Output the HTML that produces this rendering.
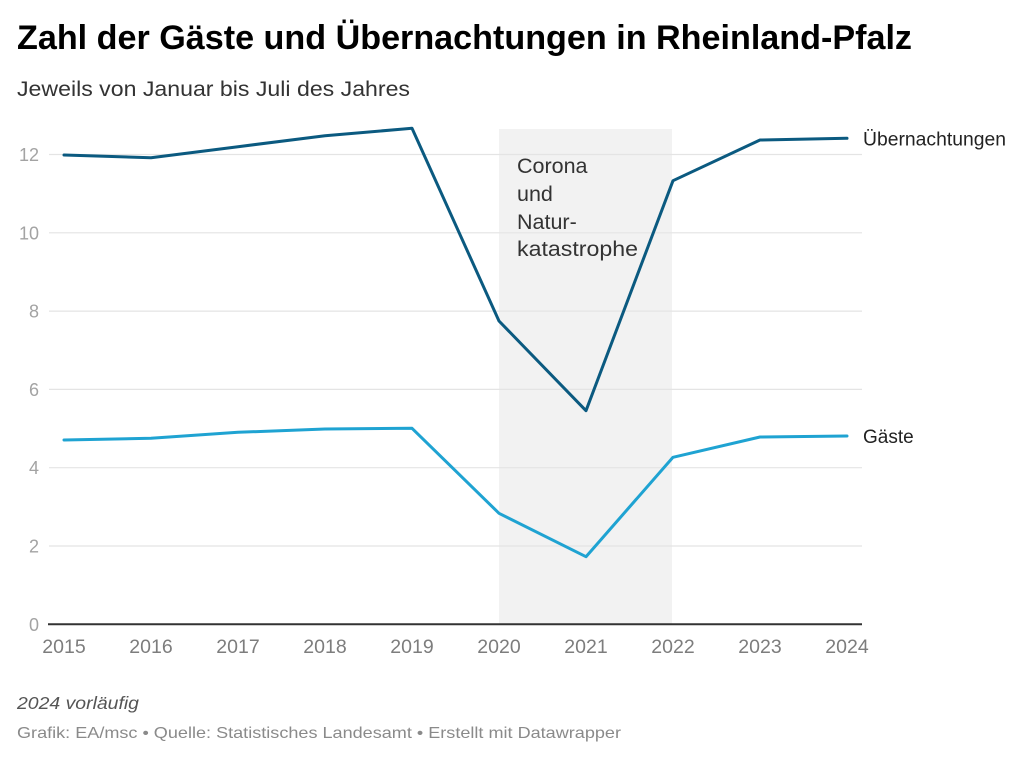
<!DOCTYPE html>
<html>
<head>
<meta charset="utf-8">
<style>
  html, body { margin:0; padding:0; background:#fff; }
  svg { display:block; }
  text { font-family: "Liberation Sans", Arial, sans-serif; }
</style>
</head>
<body>
<svg width="1024" height="760" viewBox="0 0 1024 760" xmlns="http://www.w3.org/2000/svg">
  <rect x="0" y="0" width="1024" height="760" fill="#ffffff"/>

  <!-- Title -->
  <text x="17" y="49" font-size="34" font-weight="bold" fill="#000" textLength="895" lengthAdjust="spacingAndGlyphs">Zahl der Gäste und Übernachtungen in Rheinland-Pfalz</text>
  <text x="17" y="96" font-size="21" fill="#333" textLength="393" lengthAdjust="spacingAndGlyphs">Jeweils von Januar bis Juli des Jahres</text>

  <!-- Shaded range -->
  <rect x="499" y="129" width="173" height="495" fill="#f2f2f2"/>

  <!-- Grid lines -->
  <g stroke="#e4e4e4" stroke-width="1.2">
    <line x1="49" y1="546" x2="862" y2="546"/>
    <line x1="49" y1="467.7" x2="862" y2="467.7"/>
    <line x1="49" y1="389.4" x2="862" y2="389.4"/>
    <line x1="49" y1="311.1" x2="862" y2="311.1"/>
    <line x1="49" y1="232.8" x2="862" y2="232.8"/>
    <line x1="49" y1="154.5" x2="862" y2="154.5"/>
  </g>

  <!-- Y labels -->
  <g font-size="18" fill="#a3a3a3" text-anchor="end">
    <text x="39" y="631">0</text>
    <text x="39" y="552.5">2</text>
    <text x="39" y="474.2">4</text>
    <text x="39" y="395.9">6</text>
    <text x="39" y="317.6">8</text>
    <text x="39" y="239.3">10</text>
    <text x="39" y="161">12</text>
  </g>

  <!-- Annotation -->
  <g font-size="21.5" fill="#333">
    <text x="517" y="173">Corona</text>
    <text x="517" y="201">und</text>
    <text x="517" y="229">Natur-</text>
    <text x="517" y="256" textLength="121" lengthAdjust="spacingAndGlyphs">katastrophe</text>
  </g>

  <!-- Zero axis -->
  <line x1="48" y1="624.3" x2="862" y2="624.3" stroke="#333" stroke-width="2"/>

  <!-- Series -->
  <polyline fill="none" stroke="#0b5a80" stroke-width="3" stroke-linejoin="round" stroke-linecap="round"
    points="64,155 151,157.7 238,146.7 325,135.7 412,128.3 499,321 586,410.7 673,180.7 760,140 847,138.3"/>
  <polyline fill="none" stroke="#1fa3d2" stroke-width="3" stroke-linejoin="round" stroke-linecap="round"
    points="64,440 151,438.3 238,432.3 325,429 412,428.3 499,513.3 586,556.7 673,457.3 760,437 847,436"/>

  <!-- Series labels -->
  <text x="863" y="145.5" font-size="19" fill="#222" textLength="143" lengthAdjust="spacingAndGlyphs">Übernachtungen</text>
  <text x="863" y="443" font-size="19" fill="#222">Gäste</text>

  <!-- X labels -->
  <g font-size="19.5" fill="#7d7d7d" text-anchor="middle">
    <text x="64" y="653">2015</text>
    <text x="151" y="653">2016</text>
    <text x="238" y="653">2017</text>
    <text x="325" y="653">2018</text>
    <text x="412" y="653">2019</text>
    <text x="499" y="653">2020</text>
    <text x="586" y="653">2021</text>
    <text x="673" y="653">2022</text>
    <text x="760" y="653">2023</text>
    <text x="847" y="653">2024</text>
  </g>

  <!-- Footer -->
  <text x="17" y="709" font-size="17.5" font-style="italic" fill="#555" textLength="122" lengthAdjust="spacingAndGlyphs">2024 vorläufig</text>
  <text x="17" y="738" font-size="16" fill="#8a8a8a" textLength="604" lengthAdjust="spacingAndGlyphs">Grafik: EA/msc • Quelle: Statistisches Landesamt • Erstellt mit Datawrapper</text>
</svg>
</body>
</html>
